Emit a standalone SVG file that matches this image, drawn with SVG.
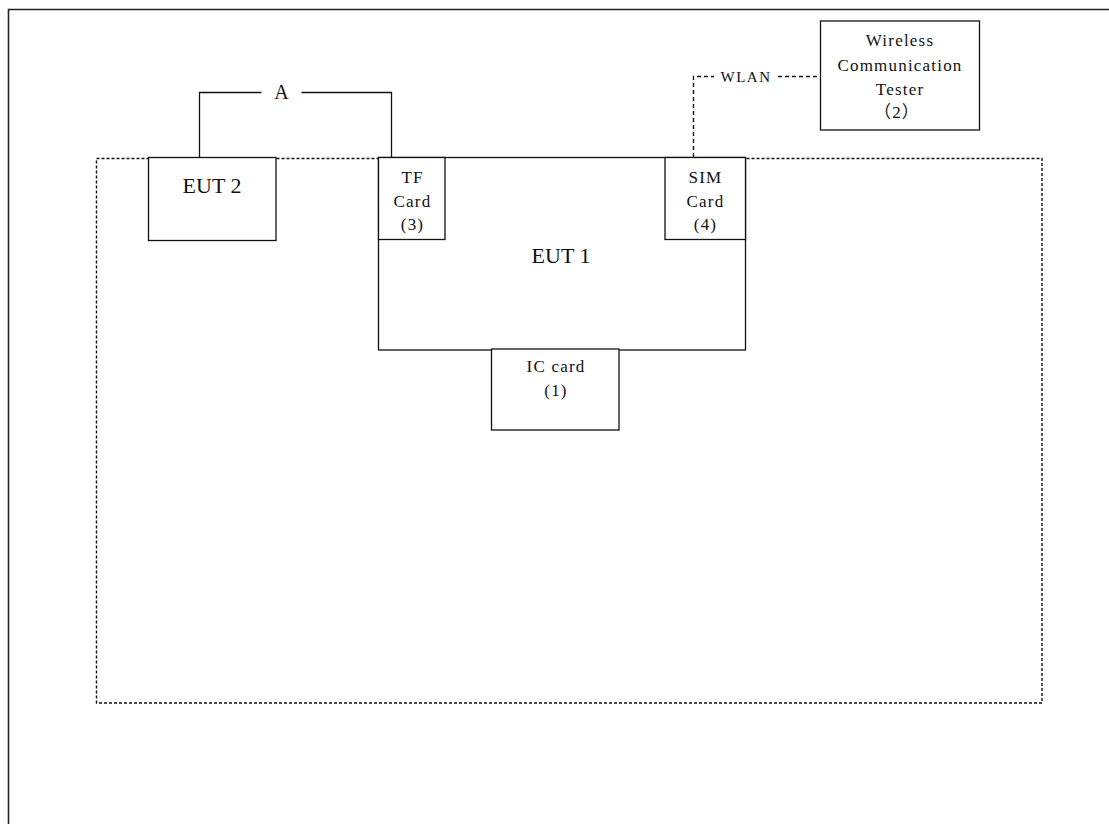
<svg xmlns="http://www.w3.org/2000/svg" width="1109" height="824" viewBox="0 0 1109 824">
<style>
.box{fill:#fff;stroke:#111;stroke-width:1.3}
.ln{fill:none;stroke:#111;stroke-width:1.3}
.dash{fill:none;stroke:#111;stroke-width:1.4;stroke-dasharray:3 2}
.wl{fill:none;stroke:#111;stroke-width:1.4;stroke-dasharray:4 3}
text{font-family:"Liberation Serif","Times New Roman",serif;fill:#111;text-anchor:middle}
.big{font-size:22px}
.sm{font-size:17px;letter-spacing:1.2px}
</style>
<rect width="1109" height="824" fill="#fff"/>
<g id="frame">
<path d="M8.5,824 V9.5 H1109" fill="none" stroke="#222" stroke-width="1.6"/>
</g>
<g id="boundary">
<rect x="96.5" y="158.5" width="945.5" height="544.5" class="dash"/>
</g>
<g id="connectors">
<path class="ln" d="M199.5,157 V92.5 H261.5"/>
<path class="ln" d="M301.5,92.5 H391.5 V157"/>
<text x="281.5" y="98.5" style="font-size:20px">A</text>
<path class="wl" d="M693.5,157 V76.5 H714"/>
<path class="wl" d="M778,76.5 H820.5"/>
<text x="746" y="82" style="font-size:15px;letter-spacing:1.5px">WLAN</text>
</g>
<g id="eut2">
<rect class="box" x="148.5" y="157.5" width="127.5" height="83"/>
<text class="big" x="212" y="193">EUT 2</text>
</g>
<g id="eut1">
<rect class="box" x="378.5" y="157.5" width="367" height="192.5"/>
<text class="big" x="561" y="262.5">EUT 1</text>
</g>
<g id="tf-card">
<rect class="box" x="378.5" y="157.5" width="66.5" height="82"/>
<text class="sm" x="412.5" y="183">TF</text>
<text class="sm" x="412.5" y="207">Card</text>
<text class="sm" x="412.5" y="230">(3)</text>
</g>
<g id="sim-card">
<rect class="box" x="665" y="157.5" width="80.5" height="82"/>
<text class="sm" x="705.5" y="183">SIM</text>
<text class="sm" x="705.5" y="207">Card</text>
<text class="sm" x="705.5" y="230">(4)</text>
</g>
<g id="ic-card">
<rect class="box" x="491.5" y="349" width="127.5" height="81"/>
<text class="sm" x="556" y="372">IC card</text>
<text class="sm" x="556" y="396">(1)</text>
</g>
<g id="tester">
<rect class="box" x="820.5" y="21" width="159" height="109"/>
<text class="sm" x="900" y="46">Wireless</text>
<text class="sm" x="900" y="71">Communication</text>
<text class="sm" x="900" y="94.5">Tester</text>
<text class="sm" x="897" y="118" style="font-family:'Liberation Serif','Noto Sans CJK SC',serif">（2）</text>
</g>
</svg>
